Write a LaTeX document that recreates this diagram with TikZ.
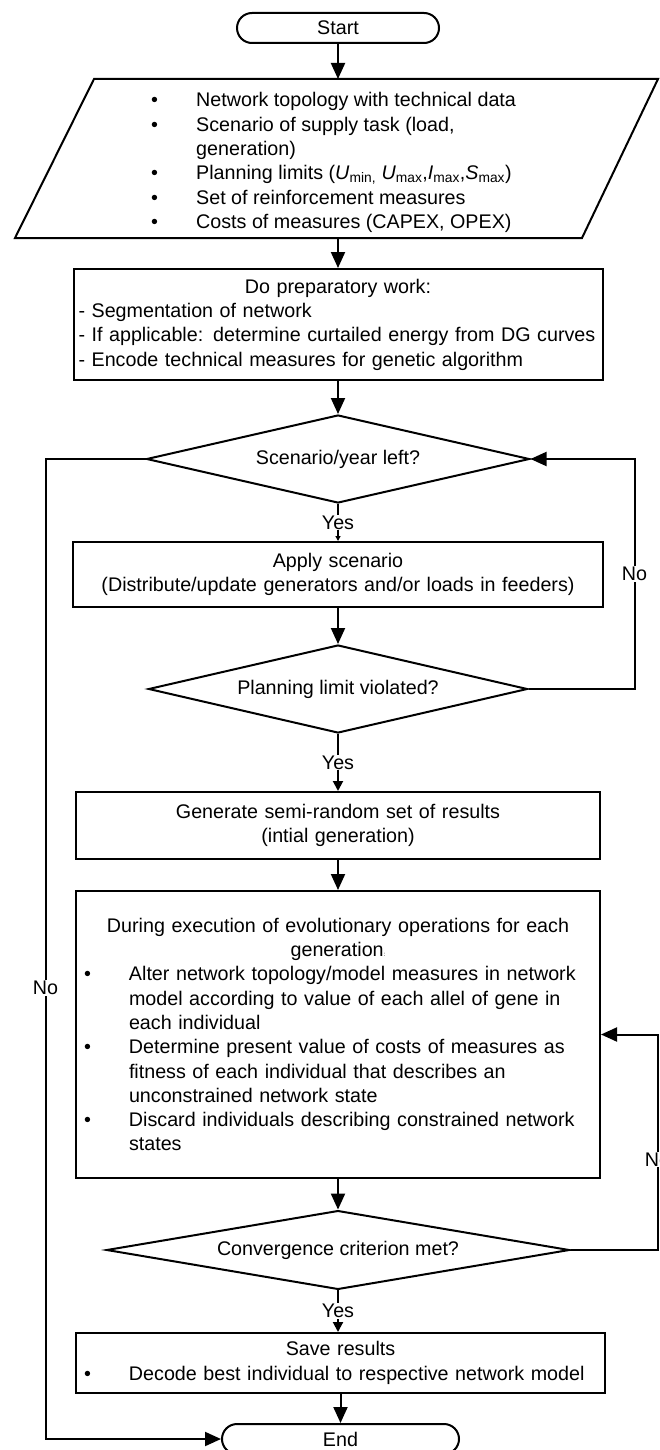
\documentclass[tikz,border=0pt]{standalone}
\usepackage{fontspec}
\setmainfont{Liberation Sans}
\usetikzlibrary{shapes.geometric,arrows.meta}
\newcommand{\bitem}{\makebox[45pt][l]{\textbullet}}
\newcommand{\bskip}{\hspace*{45pt}}
\newcommand{\ctr}[1]{\hspace*{\fill}#1\hspace*{\fill}\null}

\begin{document}
\begin{tikzpicture}[x=1pt,y=-1pt,
  every node/.style={font=\fontsize{19.7}{24.3}\selectfont},
  term/.style={draw,line width=2pt,rounded corners=15pt,minimum width=202pt,minimum height=30pt,inner sep=0pt},
  box/.style={draw,line width=2pt,inner xsep=8pt,inner ysep=0pt,align=left},
  dec/.style={draw,line width=2pt,diamond,aspect=4,inner sep=0pt},
  arr/.style={line width=2pt,-{Triangle[width=14pt,length=16pt]}},
  yarr/.style={line width=2pt,-{Triangle[width=10pt,length=10pt]}},
  lbl/.style={fill=white,inner sep=1pt}]
   \useasboundingbox (0,0) rectangle (660,1450);
   \node[term] (start) at (338,28) {Start};
   \draw[line width=2pt] (94,79) -- (658,79) -- (582,238) -- (15,238) -- cycle;
   \node[inner sep=0pt,minimum height=151pt,align=left,anchor=west] (data) at (151,162.5)
    {\bitem Network topology with technical data\\
     \bitem Scenario of supply task (load,\\
     \bskip generation)\\
     \bitem Planning limits (\textit{U}\textsubscript{min,} \textit{U}\textsubscript{max},\textit{I}\textsubscript{max},\textit{S}\textsubscript{max})\\
     \bitem Set of reinforcement measures\\
     \bitem Costs of measures (CAPEX, OPEX)};
   \node[box,inner xsep=5pt,text width=519pt,minimum height=111pt] (prep) at (338,324.5)
    {\ctr{Do preparatory work:}\\
     - Segmentation of network\\
     \mbox{- If applicable: determine curtailed energy from DG curves}\\
     - Encode technical measures for genetic algorithm};
   \node[dec,minimum width=383pt,minimum height=88pt] (d1) at (338,459) {Scenario/year left?};
   \node[box,align=center,text width=514pt,minimum height=65pt] (apply) at (338,574.5)
    {Apply scenario\\(Distribute/update generators and/or loads in feeders)};
   \node[dec,minimum width=379pt,minimum height=88pt] (d2) at (338,689) {Planning limit violated?};
   \node[box,align=center,text width=508pt,minimum height=67pt] (gen) at (338,825.5)
    {Generate semi-random set of results\\(intial generation)};
   \node[box,text width=508pt,minimum height=287pt] (big) at (338,1034.5)
    {\ctr{During execution of evolutionary operations for each}\\
     \ctr{generation{\fontsize{6}{6}\selectfont :}}\\
     \bitem Alter network topology/model measures in network\\
     \bskip model according to value of each allel of gene in\\
     \bskip each individual\\
     \bitem Determine present value of costs of measures as\\
     \bskip fitness of each individual that describes an\\
     \bskip unconstrained network state\\
     \bitem Discard individuals describing constrained network\\
     \bskip states};
   \node[dec,minimum width=463pt,minimum height=65pt] (d3) at (338,1250) {Convergence criterion met?};
   \node[box,text width=513pt,minimum height=60pt] (save) at (340.5,1363)
    {\ctr{Save results}\\
     \bitem Decode best individual to respective network model};
   \node[term,minimum width=237pt] (end) at (340.5,1439) {End};

   \coordinate (datatop) at (338,79);
   \coordinate (databot) at (338,238);
   \draw[arr] (start) -- (datatop);
   \draw[arr] (databot) -- (prep);
   \draw[arr] (prep) -- (d1);
   \draw[line width=2pt,-{Triangle[width=5pt,length=5pt]}] (d1) -- node[lbl]{Yes} (apply);
   \draw[arr] (apply) -- (d2);
   \draw[yarr] (d2) -- node[lbl]{Yes} (gen);
   \draw[arr] (gen) -- (big);
   \draw[arr] (big) -- (d3);
   \draw[yarr] (d3.south) -- node[lbl]{Yes} (d3.south |- save.north);
   \draw[arr] (save) -- (end);
   \draw[arr] (d2.east) -- ++(106,0) |- node[lbl,pos=0.25]{No} (d1.east);
   \draw[arr] (d3.east) -- ++(87,0) |- node[lbl,pos=0.21]{No} (big.east);
   \draw[arr] (d1.west) -- ++(-100,0) |- node[lbl,pos=0.27]{No} (end.west);
\end{tikzpicture}
\end{document}
